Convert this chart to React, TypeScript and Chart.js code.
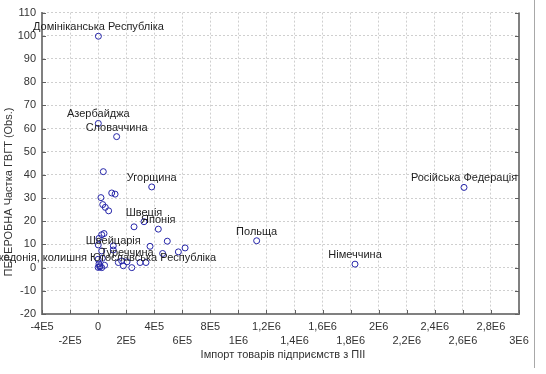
import React, { useEffect, useRef } from "react";
import { Chart, registerables } from "chart.js";

Chart.register(...registerables);

const pointNames: string[] = [
  "Домініканська Республіка", "Азербайджа", "Словаччина", "Угорщина", "Швеція", "Японія",
  "Швейцарія", "Туреччина", "Македонія, колишня Югославська Республіка", "Польща", "Німеччина", "Російська Федерація",
  "", "", "", "", "", "", "", "", "", "", "", "", "", "", "", "", "", "", "", "", "", "", "", "", "", "", "", "", "", "", "", "",
];
const importValues: number[] = [
  2000, 1500, 132000, 382000, 327000, 429000,
  108000, 206000, 12000, 1130000, 1831000, 2608000,
  37000, 97000, 121000, 20000, 33000, 51000, 75000, 256000, 25700, 42000, 6000, 1000,
  25700, 108000, 0, 13500, 0, 25700, 6000, 144000, 168000, 180000, 240000, 299000,
  341000, 370000, 460000, 572000, 620000, 493000, 46000, 30000,
];
const shareValues: number[] = [
  99.8, 62.2, 56.5, 34.8, 19.8, 16.6,
  7.6, 2.5, 0.3, 11.6, 1.5, 34.6,
  41.4, 32.2, 31.7, 30.2, 27.2, 26.0, 24.5, 17.6, 14.2, 14.7, 12.6, 9.8,
  7.2, 9.4, 3.6, 0.8, 0.1, 0, 1.6, 2.2, 2.9, 0.8, 0, 2.2,
  2.2, 9.2, 6.1, 6.8, 8.5, 11.4, 1.0, 4.0,
];
const xTickLabels: string[] = [
  "-4E5", "-2E5", "0", "2E5", "4E5", "6E5", "8E5", "1E6", "1,2E6", "1,4E6",
  "1,6E6", "1,8E6", "2E6", "2,2E6", "2,4E6", "2,6E6", "2,8E6", "3E6",
];
const xTitle = "Імпорт товарів підприємств з ПІІ";
const yTitle = "ПЕРЕРОБНА Частка ГВГТ (Obs.)";

const FONT = '"Liberation Sans", Arial, sans-serif';

export default function App() {
  const ref = useRef<HTMLCanvasElement | null>(null);
  useEffect(() => {
    if (!ref.current) return;
    const overlay = {
      id: "overlay",
      afterDraw(chart: any) {
        const ctx = chart.ctx;
        const xs = chart.scales.x;
        const ys = chart.scales.y;
        const a = chart.chartArea;
        ctx.save();
        // right frame
        ctx.strokeStyle = "#808080";
        ctx.lineWidth = 2;
        ctx.beginPath();
        ctx.moveTo(a.right, a.top);
        ctx.lineTo(a.right, a.bottom);
        ctx.stroke();
        // inward ticks
        ctx.lineWidth = 1;
        ctx.strokeStyle = "#606060";
        ys.ticks.forEach((t: any) => {
          const y = Math.round(ys.getPixelForValue(t.value)) + 0.5;
          ctx.beginPath();
          ctx.moveTo(a.left, y);
          ctx.lineTo(a.left + 4, y);
          ctx.moveTo(a.right, y);
          ctx.lineTo(a.right - 4, y);
          ctx.stroke();
        });
        xs.ticks.forEach((t: any) => {
          const x = Math.round(xs.getPixelForValue(t.value)) + 0.5;
          ctx.beginPath();
          ctx.moveTo(x, a.bottom);
          ctx.lineTo(x, a.bottom - 4);
          ctx.stroke();
        });
        // outer line
        ctx.strokeStyle = "#a8a8a8";
        ctx.beginPath();
        ctx.moveTo(534.5, 0);
        ctx.lineTo(534.5, 368);
        ctx.stroke();
        // point labels
        ctx.font = "11px " + FONT;
        ctx.fillStyle = "#1e1e1e";
        ctx.textAlign = "center";
        ctx.textBaseline = "middle";
        pointNames.forEach((n, i) => {
          if (!n) return;
          const px = xs.getPixelForValue(importValues[i]);
          const py = ys.getPixelForValue(shareValues[i]);
          ctx.fillText(n, px, py - 9);
        });
        // axis titles
        ctx.fillStyle = "#333";
        ctx.fillText(xTitle, 283, 355);
        ctx.translate(9, 192);
        ctx.rotate(-Math.PI / 2);
        ctx.fillText(yTitle, 0, 0);
        ctx.restore();
      },
    };
    const chart = new Chart(ref.current, {
      type: "scatter",
      data: {
        datasets: [
          {
            data: importValues.map((x, i) => ({ x, y: shareValues[i] })),
            pointRadius: 3,
            pointHoverRadius: 3,
            pointBorderWidth: 1,
            pointBackgroundColor: "rgba(255,255,255,0)",
            pointBorderColor: "#2525a8",
            showLine: false,
          },
        ],
      },
      options: {
        animation: false,
        responsive: false,
        events: [],
        layout: { padding: { top: 7, right: 27, bottom: 20, left: 0 } },
        plugins: { legend: { display: false }, tooltip: { enabled: false } },
        scales: {
          x: {
            type: "linear",
            min: -400000,
            max: 3000000,
            afterFit: (s: any) => {
              s.height = 40;
            },
            afterBuildTicks: (s: any) => {
              s.ticks = xTickLabels.map((_, i) => ({ value: -400000 + i * 200000 }));
            },
            ticks: {
              autoSkip: false,
              maxRotation: 0,
              minRotation: 0,
              padding: 6,
              color: "#333",
              font: { family: FONT, size: 11, lineHeight: 1.27 },
              callback: (_v: any, i: number) => (i % 2 === 0 ? [xTickLabels[i], ""] : ["", xTickLabels[i]]),
            },
            grid: { color: "#cfcfcf", drawTicks: false, lineWidth: 1 },
            border: { color: "#808080", width: 2, dash: [2, 2] },
          },
          y: {
            type: "linear",
            min: -20,
            max: 110,
            afterFit: (s: any) => {
              s.width = 42;
            },
            ticks: {
              stepSize: 10,
              padding: 6,
              color: "#333",
              font: { family: FONT, size: 11 },
            },
            grid: { color: "#cfcfcf", drawTicks: false, lineWidth: 1 },
            border: { color: "#808080", width: 2, dash: [2, 2] },
          },
        },
      },
      plugins: [overlay],
    } as any);
    return () => chart.destroy();
  }, []);
  return (
    <div style={{ position: "fixed", left: 0, top: 0, width: 546, height: 374, background: "#fff" }}>
      <canvas ref={ref} width={546} height={374} style={{ display: "block" }} />
    </div>
  );
}
